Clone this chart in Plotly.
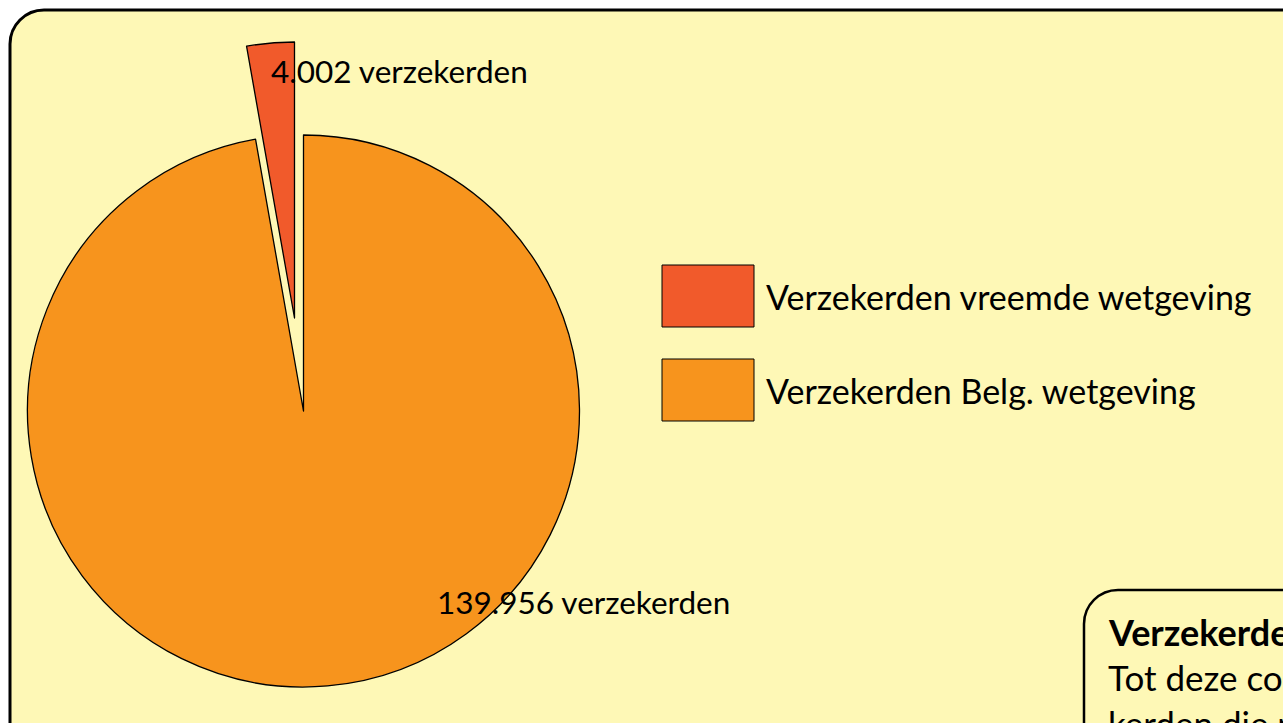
import plotly.graph_objects as go

# ---- data ----
labels = ["Verzekerden vreemde wetgeving", "Verzekerden Belg. wetgeving"]
values = [4002, 139956]
colors = ["#F15A2B", "#F7941D"]
box_title = "Verzekerden vreemde wetgeving"
box_lines = ["Tot deze collectiviteit behoren de verze-", "kerden die niet onder de Belgische wetgeving vallen"]

W, H = 1283, 723
OFF = 0
BG = "#FEF8B6"
FONT = "Lato"


def px(x):
    return (x - OFF) / W


def py(y):
    return 1 - (y - OFF) / H


def fmt(v):
    return f"{v:,}".replace(",", ".")


def rounded_rect(x0, y0, x1, y1, r):
    k = 0.5523 * r
    pts = [
        f"M {px(x0)},{py(y0 + r)}",
        f"C {px(x0)},{py(y0 + r - k)} {px(x0 + r - k)},{py(y0)} {px(x0 + r)},{py(y0)}",
        f"L {px(x1 - r)},{py(y0)}",
        f"C {px(x1 - r + k)},{py(y0)} {px(x1)},{py(y0 + r - k)} {px(x1)},{py(y0 + r)}",
        f"L {px(x1)},{py(y1 - r)}",
        f"C {px(x1)},{py(y1 - r + k)} {px(x1 - r + k)},{py(y1)} {px(x1 - r)},{py(y1)}",
        f"L {px(x0 + r)},{py(y1)}",
        f"C {px(x0 + r - k)},{py(y1)} {px(x0)},{py(y1 - r + k)} {px(x0)},{py(y1 - r)}",
        "Z",
    ]
    return " ".join(pts)


# pie drawn clockwise from 12 o'clock with the large slice first,
# so the small slice ends at 12 o'clock (left of the vertical)
pie_labels = labels[::-1]
pie_values = values[::-1]

fig = go.Figure()

cx, cy, r = 303.5, 411, 276
fig.add_trace(go.Pie(
    labels=pie_labels, values=pie_values, sort=False, direction="clockwise", rotation=0,
    marker=dict(colors=[colors[1], "rgba(0,0,0,0)"], line=dict(color=["black", "rgba(0,0,0,0)"], width=[1.3, 0])),
    textinfo="none", hoverinfo="label+value", showlegend=False,
    domain=dict(x=[px(cx - r), px(cx + r)], y=[py(cy + r), py(cy - r)]),
))
# exploded slice
dx, dy = -9, -93
fig.add_trace(go.Pie(
    labels=pie_labels, values=pie_values, sort=False, direction="clockwise", rotation=0,
    marker=dict(colors=["rgba(0,0,0,0)", colors[0]], line=dict(color=["rgba(0,0,0,0)", "black"], width=[0, 1.3])),
    textinfo="none", hoverinfo="label+value", showlegend=False,
    domain=dict(x=[px(cx + dx - r), px(cx + dx + r)], y=[py(cy + dy + r), py(cy + dy - r)]),
))

shapes = [
    dict(type="path", xref="paper", yref="paper", path=rounded_rect(10, 10, W + 60, H + 60, 34),
         fillcolor=BG, line=dict(color="black", width=3), layer="below"),
    dict(type="path", xref="paper", yref="paper", path=rounded_rect(1084, 590, W + 60, H + 60, 34),
         fillcolor=BG, line=dict(color="black", width=2.5), layer="below"),
]

annotations = []
# legend
for i, (lab, col) in enumerate(zip(labels, colors)):
    top = 265 + i * 94
    shapes.append(dict(type="rect", xref="paper", yref="paper",
                       x0=px(662), x1=px(754), y0=py(top + 62), y1=py(top),
                       fillcolor=col, line=dict(color="black", width=1)))
    annotations.append(dict(x=px(764), y=py(top + 31), xref="paper", yref="paper", text=lab,
                            showarrow=False, xanchor="left", yanchor="middle",
                            font=dict(family=FONT, size=34, color="black")))

# slice labels
label_pos = [(269, 71), (435, 602)]
for v, (lx, ly) in zip(values, label_pos):
    annotations.append(dict(x=px(lx), y=py(ly), xref="paper", yref="paper",
                            text=f"{fmt(v)} verzekerden", showarrow=False,
                            xanchor="left", yanchor="middle",
                            font=dict(family=FONT, size=31.5, color="black")))

# text box
annotations.append(dict(x=px(1106), y=py(632), xref="paper", yref="paper", text=f"<b>{box_title}</b>",
                        showarrow=False, xanchor="left", yanchor="middle",
                        font=dict(family=FONT, size=36, color="black")))
for j, line in enumerate(box_lines):
    annotations.append(dict(x=px(1106), y=py(677 + j * 46), xref="paper", yref="paper", text=line,
                            showarrow=False, xanchor="left", yanchor="middle",
                            font=dict(family=FONT, size=35, color="black")))

fig.update_layout(
    width=W, height=H, margin=dict(l=0, r=0, t=0, b=0),
    paper_bgcolor="white", plot_bgcolor="rgba(0,0,0,0)",
    shapes=shapes, annotations=annotations, showlegend=False,
)

fig.write_html("out.html", config={"displayModeBar": False},
               post_script="document.body.style.margin='0px';document.body.style.overflow='hidden';")
